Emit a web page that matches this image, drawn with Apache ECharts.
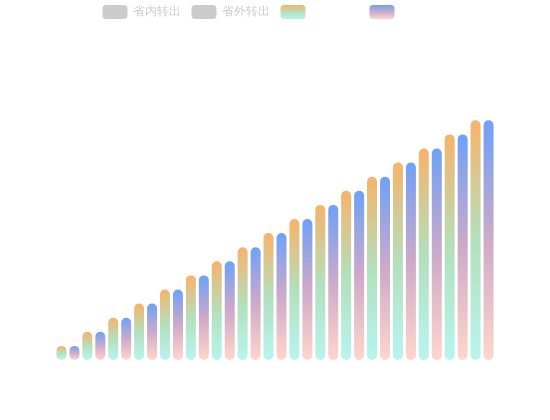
<!DOCTYPE html>
<html>
<head>
<meta charset="utf-8">
<script src="https://cdn.jsdelivr.net/npm/echarts@6/dist/echarts.min.js"></script>
<style>
    html, body {margin: 0; padding: 0; background: #fff;}
    #main-bar-chart {width: 550px; height: 420px;}
</style>
</head>
<body>
<div id="main-bar-chart"></div>
<script>
// 分类
var barName = ["1", "2", "3", "4", "5", "6", "7", "8", "9", "10", "11", "12", "13", "14", "15", "16", "17"];
// 图例
var legendName = ["省内转出", "省外转出", "省内转入", "省外转入"];
// 数据
var snzcData = [1, 2, 3, 4, 5, 6, 7, 8, 9, 10, 11, 12, 13, 14, 15, 16, 17];
var swzcData = [1, 2, 3, 4, 5, 6, 7, 8, 9, 10, 11, 12, 13, 14, 15, 16, 17];
var snzrData = [1, 2, 3, 4, 5, 6, 7, 8, 9, 10, 11, 12, 13, 14, 15, 16, 17];
var swzrData = [1, 2, 3, 4, 5, 6, 7, 8, 9, 10, 11, 12, 13, 14, 15, 16, 17];

function barColor(top, middle, bottom) {
    return new echarts.graphic.LinearGradient(0, 0, 0, 1, [
        {offset: 0, color: top},
        {offset: 0.5, color: middle},
        {offset: 1, color: bottom}
    ]);
}

var echarts_bar = echarts.init(document.getElementById("main-bar-chart"));
var echartBarOption = {
    animation: false,
    legend: {
        top: 0,
        itemGap: 11,
        data: legendName,
        textStyle: {color: "#fff", fontSize: 12},
        inactiveColor: "#ccc",
        selected: {
            "省内转出": false,
            "省外转出": false
        }
    },
    grid: {
        left: "10%",
        right: "10%",
        top: 78,
        bottom: 60
    },
    xAxis: {
        type: "category",
        data: barName,
        show: false
    },
    yAxis: {
        type: "value",
        min: 0,
        max: 20,
        show: false
    },
    series: [
        {
            name: "省内转出",
            type: "bar",
            barWidth: 10,
            data: snzcData,
            itemStyle: {color: "#f7b36a", borderRadius: 5}
        },
        {
            name: "省外转出",
            type: "bar",
            barWidth: 10,
            data: swzcData,
            itemStyle: {color: "#6ea1f7", borderRadius: 5}
        },
        {
            name: "省内转入",
            type: "bar",
            barWidth: 10,
            barGap: "30%",
            data: snzrData,
            itemStyle: {
                color: barColor("#f7b36a", "#b3dfbc", "#b8f5ee"),
                borderRadius: 5
            }
        },
        {
            name: "省外转入",
            type: "bar",
            barWidth: 10,
            barGap: "30%",
            data: swzrData,
            itemStyle: {
                color: barColor("#6ea1f7", "#cdaac8", "#ffd6cb"),
                borderRadius: 5
            }
        }
    ]
};
echarts_bar.setOption(echartBarOption);
</script>
</body>
</html>
